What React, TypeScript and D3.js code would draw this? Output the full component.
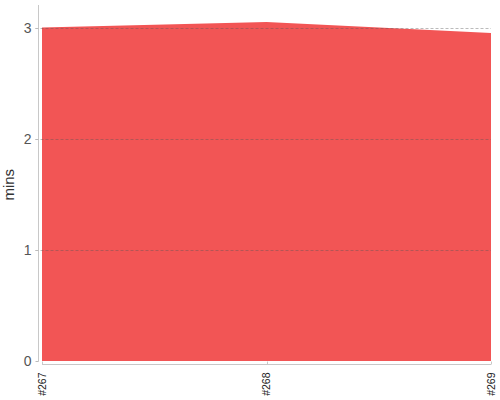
import React from 'react';
import * as d3 from 'd3';

// Build numbers and their durations (minutes)
const BUILDS = ['#267', '#268', '#269'];
const MINUTES = [3.0, 3.05, 2.95];
const Y_TICKS = [0, 1, 2, 3];

const WIDTH = 500;
const HEIGHT = 400;
const AREA_COLOR = '#f25555';

const App: React.FC = () => {
  const margin = { left: 42, right: 9, top: 27.5, bottom: 39 };
  const x = d3
    .scalePoint<string>()
    .domain(BUILDS)
    .range([margin.left, WIDTH - margin.right]);
  const y = d3
    .scaleLinear()
    .domain([0, 3])
    .range([HEIGHT - margin.bottom, margin.top]);

  const rows = BUILDS.map((b, i) => ({ build: b, value: MINUTES[i] }));
  const area = d3
    .area<{ build: string; value: number }>()
    .x((d) => x(d.build) as number)
    .y0(y(0))
    .y1((d) => y(d.value));

  const axisX = 38.5;
  const baseY = 364.5;
  const font = '"Liberation Sans", Arial, sans-serif';

  return (
    <svg
      width={WIDTH}
      height={HEIGHT}
      style={{ position: 'absolute', left: 0, top: 0, background: '#fff' }}
    >
      <path d={area(rows) ?? ''} fill={AREA_COLOR} />

      {/* gridlines */}
      {Y_TICKS.filter((t) => t > 0).map((t) => (
        <line
          key={t}
          x1={axisX - 3}
          x2={WIDTH - margin.right}
          y1={Math.round(y(t)) + 0.5}
          y2={Math.round(y(t)) + 0.5}
          stroke="#555"
          strokeOpacity={0.4}
          strokeDasharray="3,2"
        />
      ))}

      {/* y axis */}
      <line x1={axisX} x2={axisX} y1={5} y2={baseY - 3} stroke="#c8c8c8" />
      {Y_TICKS.map((t) => (
        <g key={t}>
          <line
            x1={axisX - 3}
            x2={axisX}
            y1={Math.round(y(t)) + 0.5}
            y2={Math.round(y(t)) + 0.5}
            stroke="#bbb"
          />
          <text
            x={axisX - 7}
            y={y(t)}
            dy="0.36em"
            textAnchor="end"
            fontSize={14}
            fontFamily={font}
            fill="#555"
          >
            {t}
          </text>
        </g>
      ))}
      <text
        transform={`translate(14,${(5 + baseY) / 2}) rotate(-90)`}
        textAnchor="middle"
        fontSize={15}
        fontFamily={font}
        fill="#333"
      >
        mins
      </text>

      {/* x axis */}
      <line
        x1={margin.left}
        x2={WIDTH - margin.right}
        y1={baseY}
        y2={baseY}
        stroke="#c8c8c8"
      />
      {BUILDS.map((b) => (
        <g key={b}>
          <line
            x1={Math.round(x(b) as number) + 0.5}
            x2={Math.round(x(b) as number) + 0.5}
            y1={baseY - 3}
            y2={baseY}
            stroke="#c8c8c8"
          />
          <text
            transform={`translate(${x(b)},${baseY + 8}) rotate(-90)`}
            dy="0.35em"
            textAnchor="end"
            fontSize={10.5}
            fontFamily={font}
            fill="#222"
          >
            {b}
          </text>
        </g>
      ))}
    </svg>
  );
};

export default App;
